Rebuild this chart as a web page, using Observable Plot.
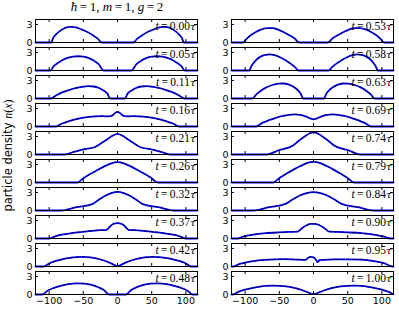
<!DOCTYPE html>
<html><head><meta charset="utf-8">
<script src="https://cdn.jsdelivr.net/npm/d3@7"></script>
<script src="https://cdn.jsdelivr.net/npm/@observablehq/plot@0.6"></script>
<style>
body{margin:0;background:#fff;}
#chart{position:relative;width:399px;height:314px;overflow:hidden;background:#fff;}
.panel{position:absolute;}
#title{position:absolute;left:36px;width:162px;top:-1px;text-align:center;font-family:"Liberation Serif",serif;font-size:13px;white-space:nowrap;}
#ylab{position:absolute;left:-92px;top:148px;width:200px;text-align:center;transform:rotate(-90deg);font-family:"DejaVu Sans",sans-serif;font-size:11.5px;white-space:nowrap;}
#ylab .m{font-family:"Liberation Serif",serif;font-size:12px;}
</style></head><body><div id="chart"><div id="title"><i>ħ</i>&#8201;=&#8201;1, <i>m</i>&#8201;=&#8201;1, <i>g</i>&#8201;=&#8201;2</div><div id="ylab">particle density <span class="m"><i>n</i>(<i>x</i>)</span></div></div>
<script>
const times = ["0.00","0.05","0.11","0.16","0.21","0.26","0.32","0.37","0.42","0.48",
               "0.53","0.58","0.63","0.69","0.74","0.79","0.84","0.90","0.95","1.00"];
const xTicks = [-100,-50,0,50,100];
const yTicks = [0,3];
const xDomain = [-120, 117];
const yDomain = [0, 3.83];

const leftProfiles = [
 [[-120,0],[-97,0],[-94,0.8],[-90,1.35],[-85,1.85],[-79,2.3],[-73,2.55],[-68,2.6],[-61,2.5],[-53,2.2],[-44,1.75],[-36,1.2],[-29,0.65],[-23,0],[23,0],[29,0.65],[36,1.2],[44,1.75],[53,2.2],[61,2.5],[68,2.6],[73,2.55],[79,2.3],[85,1.85],[90,1.35],[94,0.8],[97,0],[117,0]],
 [[-120,0],[-98,0],[-94,0.65],[-88,1.2],[-81,1.7],[-73,2.1],[-65,2.32],[-58,2.37],[-50,2.3],[-42,2.05],[-35,1.65],[-28,1.1],[-20,0],[20,0],[28,1.1],[35,1.65],[42,2.05],[50,2.3],[58,2.37],[65,2.32],[73,2.1],[81,1.7],[88,1.2],[94,0.65],[98,0],[117,0]],
 [[-120,0],[-98,0],[-90,0.5],[-80,1.05],[-70,1.45],[-60,1.75],[-50,1.97],[-43,2.05],[-35,2.0],[-27,1.75],[-20,1.3],[-15,0.85],[-11,0],[11,0],[15,0.85],[20,1.3],[27,1.75],[35,2.0],[43,2.05],[50,1.97],[60,1.75],[70,1.45],[80,1.05],[90,0.5],[98,0],[117,0]],
 [[-120,0],[-90,0],[-82,0.45],[-72,0.85],[-62,1.17],[-52,1.42],[-42,1.6],[-32,1.7],[-22,1.72],[-13,1.68],[-8,1.8],[-4,2.2],[0,2.45],[4,2.2],[8,1.8],[13,1.68],[22,1.72],[32,1.7],[42,1.6],[52,1.42],[62,1.17],[72,0.85],[82,0.45],[90,0],[117,0]],
 [[-120,0],[-77,0],[-65,0.4],[-50,0.85],[-33,1.25],[-25,1.8],[-15,2.55],[-7,3.15],[0,3.45],[7,3.15],[15,2.55],[25,1.8],[33,1.25],[50,0.85],[65,0.4],[77,0],[117,0]],
 [[-120,0],[-59,0],[-50,0.7],[-40,1.4],[-30,2.05],[-20,2.65],[-10,3.15],[0,3.38],[10,3.15],[20,2.65],[30,2.05],[40,1.4],[50,0.7],[59,0],[117,0]],
 [[-120,0],[-83,0],[-60,0.55],[-37,1.05],[-28,1.75],[-18,2.45],[-9,2.9],[0,3.1],[9,2.9],[18,2.45],[28,1.75],[37,1.05],[60,0.55],[83,0],[117,0]],
 [[-120,0],[-100,0],[-90,0.4],[-78,0.7],[-62,0.98],[-45,1.2],[-30,1.35],[-16,1.45],[-11,2.0],[-6,2.45],[0,2.55],[6,2.45],[11,2.0],[16,1.45],[30,1.35],[45,1.2],[62,0.98],[78,0.7],[90,0.4],[100,0],[117,0]],
 [[-120,0],[-108,0],[-100,0.5],[-90,0.92],[-80,1.22],[-70,1.43],[-60,1.56],[-50,1.6],[-40,1.53],[-30,1.33],[-20,1.0],[-10,0.55],[0,0.08],[10,0.55],[20,1.0],[30,1.33],[40,1.53],[50,1.6],[60,1.56],[70,1.43],[80,1.22],[90,0.92],[100,0.5],[108,0],[117,0]],
 [[-120,0],[-110,0],[-103,0.6],[-93,1.1],[-83,1.45],[-72,1.72],[-60,1.85],[-48,1.8],[-38,1.6],[-28,1.2],[-20,0.75],[-12,0],[12,0],[20,0.75],[28,1.2],[38,1.6],[48,1.8],[60,1.85],[72,1.72],[83,1.45],[93,1.1],[103,0.6],[110,0],[117,0]]
];
const rightProfiles = [
 [[-120,0],[-103,0],[-98,0.6],[-92,1.2],[-85,1.7],[-77,2.15],[-68,2.4],[-60,2.38],[-52,2.15],[-44,1.75],[-36,1.25],[-28,0.7],[-21,0],[21,0],[28,0.7],[36,1.25],[44,1.75],[52,2.15],[60,2.38],[68,2.4],[77,2.15],[85,1.7],[92,1.2],[98,0.6],[103,0],[117,0]],
 [[-120,0],[-94,0],[-91,0.7],[-87,1.35],[-82,1.95],[-76,2.4],[-70,2.62],[-64,2.68],[-57,2.55],[-49,2.2],[-41,1.7],[-33,1.1],[-27,0.55],[-22,0],[22,0],[27,0.55],[33,1.1],[41,1.7],[49,2.2],[57,2.55],[64,2.68],[70,2.62],[76,2.4],[82,1.95],[87,1.35],[91,0.7],[94,0],[117,0]],
 [[-120,0],[-89,0],[-84,0.65],[-77,1.3],[-69,1.85],[-60,2.25],[-51,2.47],[-44,2.5],[-37,2.35],[-30,2.0],[-24,1.5],[-19,0.85],[-15,0],[15,0],[19,0.85],[24,1.5],[30,2.0],[37,2.35],[44,2.5],[51,2.47],[60,2.25],[69,1.85],[77,1.3],[84,0.65],[89,0],[117,0]],
 [[-120,0],[-84,0],[-75,0.6],[-65,1.05],[-55,1.45],[-45,1.75],[-36,1.95],[-28,2.02],[-20,1.95],[-12,1.7],[-5,1.35],[0,1.2],[5,1.35],[12,1.7],[20,1.95],[28,2.02],[36,1.95],[45,1.75],[55,1.45],[65,1.05],[75,0.6],[84,0],[117,0]],
 [[-120,0],[-69,0],[-50,0.75],[-30,1.5],[-22,2.25],[-13,3.0],[-6,3.5],[0,3.72],[6,3.5],[13,3.0],[22,2.25],[30,1.5],[50,0.75],[69,0],[117,0]],
 [[-120,0],[-59,0],[-50,0.75],[-40,1.45],[-30,2.1],[-20,2.7],[-10,3.22],[0,3.45],[10,3.22],[20,2.7],[30,2.1],[40,1.45],[50,0.75],[59,0],[117,0]],
 [[-120,0],[-88,0],[-65,0.55],[-42,1.05],[-32,1.75],[-20,2.5],[-10,2.9],[0,3.05],[10,2.9],[20,2.5],[32,1.75],[42,1.05],[65,0.55],[88,0],[117,0]],
 [[-120,0],[-111,0],[-102,0.35],[-88,0.65],[-70,0.88],[-50,1.02],[-35,1.1],[-23,1.15],[-17,1.7],[-10,2.2],[-4,2.42],[2,2.42],[8,2.25],[15,1.8],[23,1.15],[35,1.1],[50,1.02],[70,0.88],[88,0.65],[102,0.35],[113,0],[117,0]],
 [[-120,0],[-117,0],[-110,0.35],[-100,0.65],[-85,0.95],[-65,1.15],[-45,1.22],[-25,1.15],[-12,1.1],[-8,1.45],[-4,1.6],[0,1.52],[3,1.2],[6,0.75],[9,1.05],[15,1.1],[30,1.17],[50,1.2],[70,1.13],[88,0.9],[103,0.55],[116,0],[117,0]],
 [[-120,0],[-118,0],[-110,0.45],[-100,0.8],[-90,1.07],[-80,1.28],[-70,1.42],[-60,1.48],[-50,1.45],[-40,1.35],[-30,1.15],[-20,0.85],[-10,0.45],[0,0.05],[10,0.45],[20,0.85],[30,1.15],[40,1.35],[50,1.45],[60,1.48],[70,1.42],[80,1.28],[90,1.07],[100,0.8],[110,0.45],[117,0.05]]
];

const chart = document.getElementById("chart");
const colLeft = [35, 231], frameW = 162, frameH = 23, rowTop0 = 19, rowPitch = 28;
const tickPx = 3;
const tickY = tickPx * (yDomain[1]-yDomain[0]) / frameH;
const tickX = tickPx * (xDomain[1]-xDomain[0]) / frameW;

const all = leftProfiles.concat(rightProfiles);
all.forEach((prof, i) => {
  const col = i < 10 ? 0 : 1, row = i % 10, bottom = row === 9;
  const ML = 16, MR = 3, MT = 2, MB = bottom ? 14 : 2;
  const label = "t = " + times[i] + "τ";
  const p = Plot.plot({
    width: frameW + ML + MR, height: frameH + MT + MB,
    marginLeft: ML, marginRight: MR, marginTop: MT, marginBottom: MB,
    x: {domain: xDomain, axis: null},
    y: {domain: yDomain, axis: null},
    style: {background: "transparent", overflow: "visible", fontFamily: "DejaVu Sans", fontSize: "9.5px", color: "black"},
    marks: [
      Plot.line(prof, {x: d => d[0], y: d => d[1], stroke: "#0000ff", strokeWidth: 1.8, curve: "monotone-x"}),
      Plot.line(prof, {x: d => d[0], y: d => d[1], stroke: "black", strokeWidth: 0.7, strokeDasharray: "3,3", curve: "monotone-x"}),
      Plot.ruleX(xTicks, {x: d => d, y1: yDomain[0], y2: yDomain[0] + tickY, stroke: "black"}),
      Plot.ruleX(xTicks, {x: d => d, y1: yDomain[1] - tickY, y2: yDomain[1], stroke: "black"}),
      Plot.ruleY(yTicks, {y: d => d, x1: xDomain[0], x2: xDomain[0] + tickX, stroke: "black"}),
      Plot.ruleY(yTicks, {y: d => d, x1: xDomain[1] - tickX, x2: xDomain[1], stroke: "black"}),
      Plot.frame({stroke: "black"}),
      Plot.axisY(yTicks, {tickSize: 0, tickPadding: 3, fontSize: 9.5}),
      bottom ? Plot.axisX(xTicks, {tickSize: 0, tickPadding: 3, fontSize: 9.5}) : null,
      Plot.text([label], {text: d => d, frameAnchor: "top-right", dx: -2, dy: 2, lineAnchor: "top", fontFamily: "Liberation Serif", fontSize: 11.5, fill: "black"})
    ]
  });
  p.classList.add("panel");
  p.style.left = (colLeft[col] - ML) + "px";
  p.style.top = (rowTop0 + row * rowPitch - MT) + "px";
  d3.select(p).selectAll('g[aria-label="text"] text').each(function() {
    const t = d3.select(this);
    t.text(null);
    t.append("tspan").attr("font-style", "italic").text("t");
    t.append("tspan").text("\u2009=\u2009" + times[i]);
    t.append("tspan").attr("font-style", "italic").attr("font-family", "DejaVu Serif").attr("font-size", 10).text("τ");
  });
  chart.appendChild(p);
});
</script>
</body></html>
